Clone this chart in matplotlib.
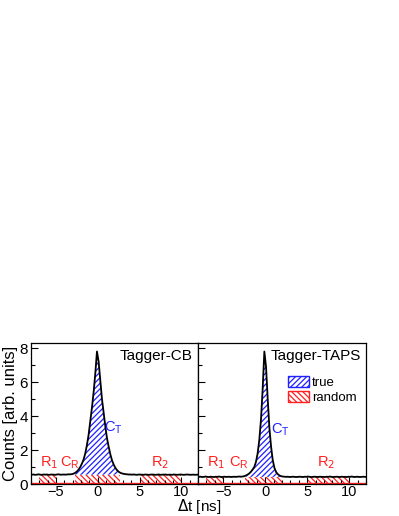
import numpy as np
import matplotlib
matplotlib.use('Agg')
import matplotlib.pyplot as plt
from matplotlib.patches import Patch
from matplotlib.ticker import MultipleLocator

plt.rcParams['font.family'] = ['Liberation Sans', 'DejaVu Sans']
plt.rcParams['hatch.linewidth'] = 0.9

# time bins (ns), width 0.2 from -8 to 12
bin_edges = np.arange(-8.0, 12.0001, 0.2)
bin_centers = 0.5 * (bin_edges[:-1] + bin_edges[1:])

# Tagger-CB counts
counts_cb = [
    0.55, 0.56, 0.54, 0.55, 0.57, 0.55, 0.54, 0.56, 0.55, 0.56,
    0.54, 0.55, 0.56, 0.55, 0.54, 0.56, 0.57, 0.55, 0.55, 0.56,
    0.55, 0.56, 0.57, 0.57, 0.58, 0.61, 0.66, 0.74, 0.85, 1.00,
    1.20, 1.45, 1.80, 2.30, 2.90, 3.70, 4.50, 5.40, 6.50, 7.80,
    7.20, 6.10, 5.00, 4.20, 3.40, 2.70, 2.20, 1.75, 1.40, 1.15,
    0.95, 0.82, 0.72, 0.66, 0.62, 0.60, 0.58, 0.57, 0.56, 0.56,
    0.55, 0.56, 0.55, 0.54, 0.56, 0.55, 0.55, 0.54, 0.56, 0.55,
    0.54, 0.55, 0.56, 0.55, 0.54, 0.55, 0.56, 0.54, 0.55, 0.55,
    0.56, 0.54, 0.55, 0.55, 0.54, 0.56, 0.55, 0.54, 0.55, 0.56,
    0.55, 0.54, 0.55, 0.56, 0.55, 0.54, 0.55, 0.55, 0.54, 0.55,
]

# Tagger-TAPS counts
counts_taps = [
    0.42, 0.43, 0.41, 0.42, 0.44, 0.42, 0.41, 0.43, 0.42, 0.41,
    0.43, 0.42, 0.44, 0.42, 0.41, 0.43, 0.42, 0.42, 0.43, 0.41,
    0.42, 0.43, 0.42, 0.43, 0.44, 0.43, 0.44, 0.46, 0.50, 0.55,
    0.62, 0.72, 0.85, 1.00, 1.30, 1.80, 2.60, 3.80, 5.60, 7.80,
    6.90, 5.00, 3.30, 2.20, 1.40, 0.95, 0.70, 0.58, 0.50, 0.46,
    0.44, 0.43, 0.42, 0.43, 0.41, 0.42, 0.43, 0.42, 0.41, 0.42,
    0.43, 0.42, 0.41, 0.43, 0.42, 0.44, 0.42, 0.41, 0.42, 0.43,
    0.42, 0.41, 0.43, 0.42, 0.42, 0.41, 0.43, 0.42, 0.44, 0.42,
    0.41, 0.42, 0.43, 0.42, 0.41, 0.43, 0.42, 0.42, 0.41, 0.43,
    0.42, 0.44, 0.42, 0.41, 0.43, 0.42, 0.41, 0.42, 0.43, 0.42,
]

background = [0.55, 0.42]
names = ['Tagger-CB', 'Tagger-TAPS']
# windows: R1, C_R (same as prompt window C_T), R2
r1_windows = [(-7.0, -5.0), (-7.0, -5.0)]
cr_windows = [(-2.7, 2.7), (-2.4, 2.0)]
r2_windows = [(5.0, 10.0), (5.0, 10.0)]
# label positions (x, y)
r1_pos = [(-5.8, 1.05), (-5.9, 1.05)]
cr_pos = [(-3.4, 1.05), (-3.1, 1.05)]
r2_pos = [(7.5, 1.05), (7.3, 1.05)]
ct_pos = [(1.9, 3.1), (1.8, 3.0)]

BLUE = '#2020ff'
RED = '#ff2020'
HATCH_TRUE = '//////'
HATCH_RAND = '\\\\\\\\\\\\'

fig = plt.figure(figsize=(3.99, 5.16), dpi=100)
ax_l = fig.add_axes([0.0777, 0.062, 0.4185, 0.2733])
ax_r = fig.add_axes([0.4962, 0.062, 0.4211, 0.2733])

for k, (ax, counts) in enumerate(zip([ax_l, ax_r], [counts_cb, counts_taps])):
    counts = np.array(counts)
    bg = background[k]

    # random windows (red hatched up to the background level)
    for lo, hi in [r1_windows[k], cr_windows[k], r2_windows[k]]:
        ax.fill_between([lo, hi], 0, bg, facecolor='none', edgecolor=RED,
                        hatch=HATCH_RAND, linewidth=0.0)
    ax.axhline(0.03, color=RED, lw=1.0)

    # true coincidences: above background inside C_T
    lo, hi = cr_windows[k]
    sel = (bin_centers >= lo) & (bin_centers <= hi)
    ax.fill_between(bin_centers[sel], bg, counts[sel], facecolor='none',
                    edgecolor=BLUE, hatch=HATCH_TRUE, linewidth=0.0)

    # histogram outline
    ax.plot(bin_centers, counts, color='black', lw=1.3)

    ax.set_xlim(-8, 12)
    ax.set_ylim(0, 8.3)
    ax.xaxis.set_major_locator(MultipleLocator(5))
    ax.xaxis.set_minor_locator(MultipleLocator(1))
    ax.yaxis.set_major_locator(MultipleLocator(2))
    ax.yaxis.set_minor_locator(MultipleLocator(1))
    ax.tick_params(which='both', direction='in', top=False, right=False,
                   labelsize=11, width=0.8)
    ax.tick_params(axis='x', pad=0.5, labelsize=10.5)
    ax.tick_params(axis='y', pad=2)
    ax.tick_params(which='major', length=5)
    ax.tick_params(which='minor', length=3)
    for sp in ax.spines.values():
        sp.set_linewidth(0.9)

    ax.text(0.97, 0.96, names[k], transform=ax.transAxes, ha='right',
            va='top', fontsize=11)
    ax.text(*r1_pos[k], r'R$_1$', color=RED, ha='center', fontsize=10.5)
    ax.text(*cr_pos[k], r'C$_\mathregular{R}$', color=RED, ha='center', fontsize=10.5)
    ax.text(*r2_pos[k], r'R$_2$', color=RED, ha='center', fontsize=10.5)
    ax.text(*ct_pos[k], r'C$_\mathregular{T}$', color=BLUE, ha='center', fontsize=10.5)

ax_r.tick_params(axis='y', labelleft=False)
ax_l.set_ylabel('Counts [arb. units]', fontsize=12, labelpad=1)

handles = [Patch(facecolor='none', edgecolor=BLUE, hatch=HATCH_TRUE, label='true'),
           Patch(facecolor='none', edgecolor=RED, hatch=HATCH_RAND, label='random')]
ax_r.legend(handles=handles, loc='upper right', bbox_to_anchor=(0.99, 0.82),
            frameon=False, fontsize=9.5, handlelength=1.6, handleheight=0.9,
            handletextpad=0.2, labelspacing=0.1, borderpad=0.1)

fig.text(0.5, 0.0, r'$\Delta$t [ns]', ha='center', va='bottom', fontsize=11)

fig.savefig('out.png', dpi=100)
